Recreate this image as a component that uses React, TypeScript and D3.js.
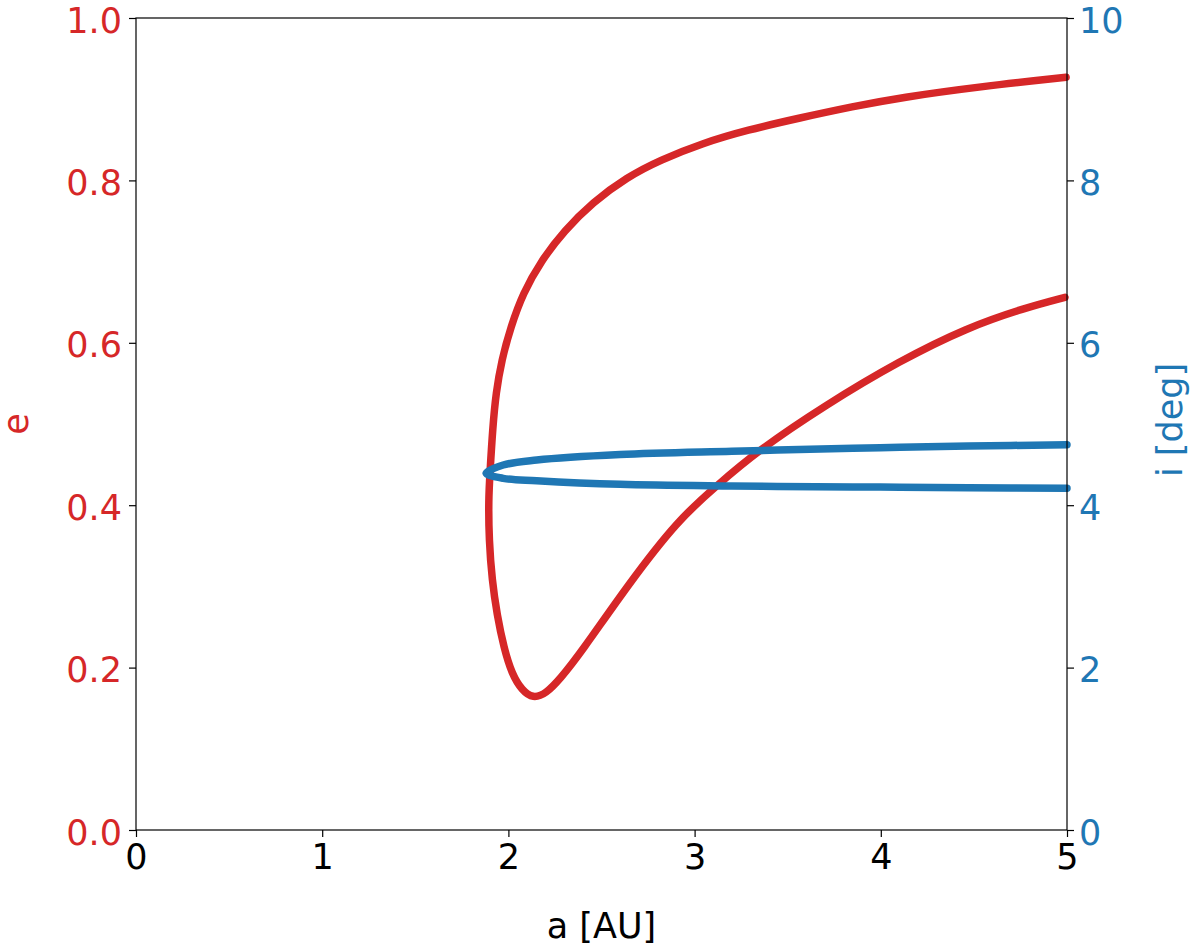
import React, { useEffect, useRef } from 'react';
import * as d3 from 'd3';

// upper and lower branches of each track, both starting at the turning point
const redUpperA = [1.893, 1.901, 1.916, 1.933, 1.964, 2.012, 2.078, 2.176, 2.300, 2.452, 2.637, 2.814, 3.045, 3.281, 3.566, 3.851, 4.103, 4.549, 4.995];
const redUpperE = [0.406, 0.440, 0.496, 0.538, 0.579, 0.619, 0.661, 0.701, 0.738, 0.773, 0.804, 0.825, 0.846, 0.862, 0.877, 0.891, 0.902, 0.916, 0.927];
const redLowerA = [1.893, 1.896, 1.912, 1.939, 1.976, 2.019, 2.073, 2.132, 2.202, 2.277, 2.385, 2.642, 2.911, 3.119, 3.333, 3.700, 4.103, 4.466, 4.774, 4.989];
const redLowerE = [0.406, 0.357, 0.308, 0.265, 0.224, 0.192, 0.172, 0.162, 0.168, 0.186, 0.217, 0.302, 0.382, 0.424, 0.466, 0.523, 0.578, 0.619, 0.643, 0.656];

const blueUpperA = [1.880, 1.972, 2.152, 2.600, 3.200, 3.850, 4.103, 4.470, 5.000];
const blueUpperI = [4.393, 4.495, 4.557, 4.625, 4.665, 4.700, 4.713, 4.728, 4.745];
const blueLowerA = [1.880, 1.972, 2.152, 2.600, 3.200, 3.850, 4.103, 4.470, 5.000];
const blueLowerI = [4.393, 4.331, 4.302, 4.257, 4.236, 4.224, 4.222, 4.216, 4.210];

const xTicks = [0, 1, 2, 3, 4, 5];
const eTicks = [0, 0.2, 0.4, 0.6, 0.8, 1.0];
const iTicks = [0, 2, 4, 6, 8, 10];

const RED = '#d62728';
const BLUE = '#1f77b4';
const FONT = '"DejaVu Sans", sans-serif';

const width = 1200;
const height = 949;
const margin = { left: 136, right: 133, top: 18, bottom: 119 };

const App = () => {
  const axisRef = useRef(null);

  const xScale = d3.scaleLinear().domain([0, 5]).range([margin.left, width - margin.right]);
  const eScale = d3.scaleLinear().domain([0, 1]).range([height - margin.bottom, margin.top]);
  const iScale = d3.scaleLinear().domain([0, 10]).range([height - margin.bottom, margin.top]);

  // walk the upper branch backwards, then out along the lower one
  const loop = (ua, uv, la, lv) => {
    const up = ua.map((a, k) => [a, uv[k]]).reverse();
    const low = la.map((a, k) => [a, lv[k]]).slice(1);
    return up.concat(low);
  };

  const redLine = d3.line()
    .x(d => xScale(d[0]))
    .y(d => eScale(d[1]))
    .curve(d3.curveBasis);

  const blueLine = d3.line()
    .x(d => xScale(d[0]))
    .y(d => iScale(d[1]))
    .curve(d3.curveCatmullRom.alpha(0.5));

  const redPath = redLine(loop(redUpperA, redUpperE, redLowerA, redLowerE));
  const bluePath = blueLine(loop(blueUpperA, blueUpperI, blueLowerA, blueLowerI));

  useEffect(() => {
    const g = d3.select(axisRef.current);
    g.selectAll('*').remove();

    const style = (sel, color) => {
      sel.select('.domain').remove();
      sel.selectAll('line').attr('stroke', '#000').attr('stroke-width', 1.2);
      sel.selectAll('text')
        .attr('fill', color)
        .attr('font-family', FONT)
        .attr('font-size', 35);
    };

    g.append('g')
      .attr('transform', `translate(0, ${height - margin.bottom})`)
      .call(d3.axisBottom(xScale).tickValues(xTicks).tickFormat(d3.format('d')).tickSize(7).tickPadding(7))
      .call(sel => style(sel, '#000'));

    g.append('g')
      .attr('transform', `translate(${margin.left}, 0)`)
      .call(d3.axisLeft(eScale).tickValues(eTicks).tickFormat(d3.format('.1f')).tickSize(7).tickPadding(7))
      .call(sel => style(sel, RED))
      .call(sel => sel.selectAll('text').attr('dy', '0.4em'));

    g.append('g')
      .attr('transform', `translate(${width - margin.right}, 0)`)
      .call(d3.axisRight(iScale).tickValues(iTicks).tickFormat(d3.format('d')).tickSize(7).tickPadding(5))
      .call(sel => style(sel, BLUE))
      .call(sel => sel.selectAll('text').attr('dy', '0.4em'));
  });

  const plotW = width - margin.left - margin.right;
  const plotH = height - margin.top - margin.bottom;

  return (
    <svg
      width={width}
      height={height}
      viewBox={`0 0 ${width} ${height}`}
      style={{ position: 'absolute', left: 0, top: 0, background: '#fff' }}
    >
      <path d={redPath} fill="none" stroke={RED} strokeWidth={7.5} strokeLinecap="round" strokeLinejoin="round" />
      <path d={bluePath} fill="none" stroke={BLUE} strokeWidth={7.5} strokeLinecap="round" strokeLinejoin="round" />

      <rect x={margin.left} y={margin.top} width={plotW} height={plotH} fill="none" stroke="#000" strokeWidth={1.2} />
      <g ref={axisRef} />

      <text x={margin.left + plotW / 2} y={938} textAnchor="middle" fontFamily={FONT} fontSize={35} fill="#000">a [AU]</text>
      <text transform={`translate(28, ${margin.top + plotH / 2}) rotate(-90)`} textAnchor="middle" fontFamily={FONT} fontSize={35} fill={RED}>e</text>
      <text transform={`translate(1182, 420) rotate(-90)`} textAnchor="middle" fontFamily={FONT} fontSize={35} fill={BLUE}>i [deg]</text>
    </svg>
  );
};

export default App;
